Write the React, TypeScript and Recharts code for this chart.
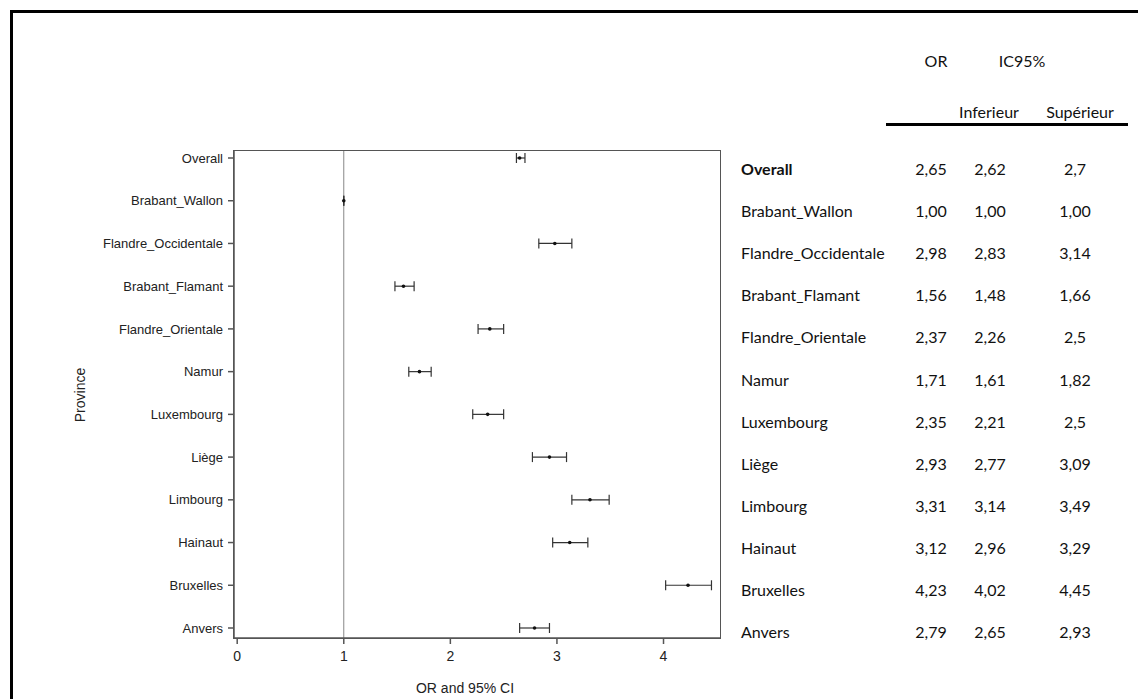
import { ScatterChart, Scatter, XAxis, YAxis, ErrorBar, ReferenceLine } from "recharts";

const provinces = [
  "Overall",
  "Brabant_Wallon",
  "Flandre_Occidentale",
  "Brabant_Flamant",
  "Flandre_Orientale",
  "Namur",
  "Luxembourg",
  "Liège",
  "Limbourg",
  "Hainaut",
  "Bruxelles",
  "Anvers",
];

// values as printed in the table (decimal comma)
const orText = ["2,65", "1,00", "2,98", "1,56", "2,37", "1,71", "2,35", "2,93", "3,31", "3,12", "4,23", "2,79"];
const lowText = ["2,62", "1,00", "2,83", "1,48", "2,26", "1,61", "2,21", "2,77", "3,14", "2,96", "4,02", "2,65"];
const highText = ["2,7", "1,00", "3,14", "1,66", "2,5", "1,82", "2,5", "3,09", "3,49", "3,29", "4,45", "2,93"];

const xTicks = [0, 1, 2, 3, 4];
const xDomain: [number, number] = [-0.03, 4.53];

const num = (s: string) => parseFloat(s.replace(",", "."));

const data = provinces.map((name, i) => {
  const or = num(orText[i]);
  return { name, or, err: [or - num(lowText[i]), num(highText[i]) - or] };
});

const plotFont = '"Liberation Sans", Arial, sans-serif';
const tableFont = 'Lato, "Open Sans", sans-serif';
const axisColor = "#555";

// chart geometry
const W = 740;
const H = 699;
const M = { top: 151, right: 20, bottom: 31, left: 0 };
const Y_AXIS_W = 234;
const X_AXIS_H = 30;

const Dot = (props: any) => <circle cx={props.cx} cy={props.cy} r={1.8} fill="#111" />;

const abs = (x: number, y: number, extra: React.CSSProperties = {}): React.CSSProperties => ({
  position: "absolute",
  left: x,
  top: y,
  transform: "translate(-50%, -50%)",
  whiteSpace: "nowrap",
  ...extra,
});

export default function App() {
  const rowTop = 168;
  const rowStep = 42.1;
  const cell = { fontFamily: tableFont, fontSize: 16, color: "#111" };
  const plotLeft = M.left + Y_AXIS_W;
  const plotRight = W - M.right;
  const plotBottom = H - M.bottom - X_AXIS_H;
  return (
    <div style={{ position: "absolute", left: 0, top: 0, width: 1138, height: 699, overflow: "hidden", background: "#fff" }}>
      <div style={{ position: "absolute", left: 10, top: 10, width: 1140, height: 700, border: "3px solid #000" }} />

      <ScatterChart width={W} height={H} margin={M}>
        <XAxis
          type="number"
          dataKey="or"
          domain={xDomain}
          ticks={xTicks}
          allowDataOverflow
          height={X_AXIS_H}
          stroke={axisColor}
          strokeWidth={1.5}
          tickSize={6}
          tickMargin={7}
          tick={{ fill: "#222", fontSize: 14, fontFamily: plotFont }}
        />
        <YAxis
          type="category"
          dataKey="name"
          scale="point"
          reversed
          padding={{ top: 7, bottom: 10 }}
          width={Y_AXIS_W}
          stroke={axisColor}
          strokeWidth={1.5}
          tickSize={6}
          tickMargin={5}
          interval={0}
          tick={{ fill: "#222", fontSize: 13, fontFamily: plotFont }}
        />
        <ReferenceLine x={1} stroke="#888" strokeWidth={1} />
        <Scatter data={data} shape={Dot} isAnimationActive={false}>
          <ErrorBar dataKey="err" direction="x" width={5} stroke="#333" strokeWidth={1.2} />
        </Scatter>
      </ScatterChart>

      {/* box around the plot area */}
      <div
        style={{
          position: "absolute",
          left: plotLeft - 0.75,
          top: M.top - 0.75,
          width: plotRight - plotLeft + 1.5,
          height: plotBottom - M.top + 1.5,
          boxSizing: "border-box",
          border: `1.5px solid ${axisColor}`,
          pointerEvents: "none",
        }}
      />

      <div style={abs(80, 395, { transform: "translate(-50%, -50%) rotate(-90deg)", fontFamily: plotFont, fontSize: 14, color: "#222" })}>Province</div>
      <div style={abs(465, 688, { fontFamily: plotFont, fontSize: 14, color: "#222" })}>OR and 95% CI</div>

      <div style={abs(936, 60, cell)}>OR</div>
      <div style={abs(1022, 60, cell)}>IC95%</div>
      <div style={abs(989, 111, cell)}>Inferieur</div>
      <div style={abs(1080, 111, cell)}>Supérieur</div>
      <div style={{ position: "absolute", left: 886, top: 123, width: 242, height: 3, background: "#000" }} />

      {provinces.map((p, i) => {
        const y = rowTop + i * rowStep;
        return (
          <div key={p}>
            <div
              style={{
                position: "absolute",
                left: 741,
                top: y,
                transform: "translateY(-50%)",
                whiteSpace: "nowrap",
                ...cell,
                fontWeight: i === 0 ? 700 : 400,
              }}
            >
              {p}
            </div>
            <div style={abs(931, y, cell)}>{orText[i]}</div>
            <div style={abs(990, y, cell)}>{lowText[i]}</div>
            <div style={abs(1075, y, cell)}>{highText[i]}</div>
          </div>
        );
      })}
    </div>
  );
}
